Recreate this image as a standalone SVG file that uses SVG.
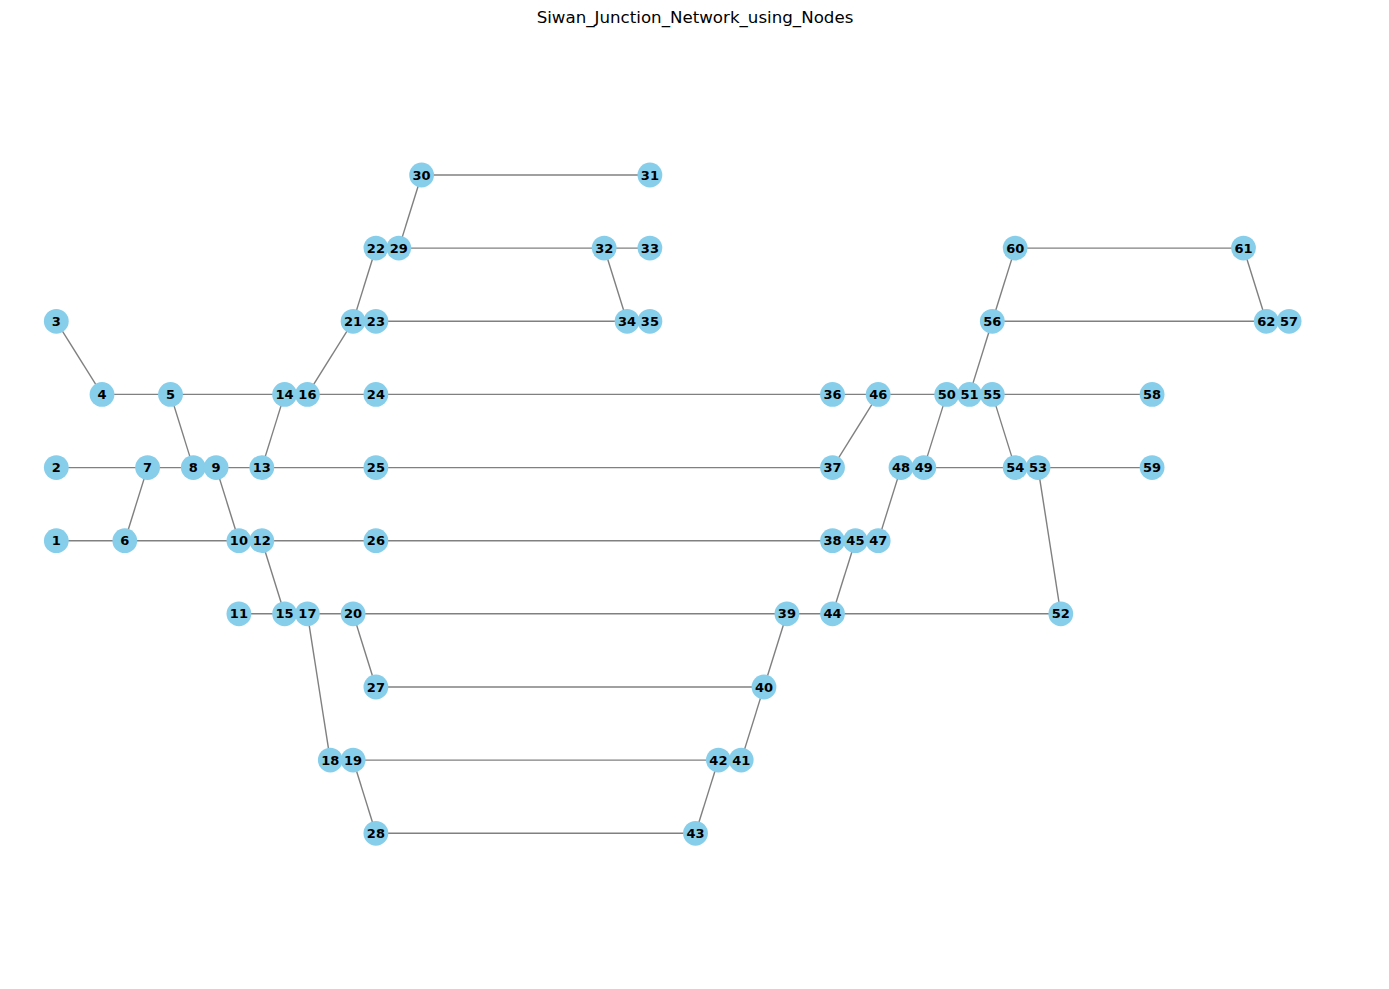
<svg xmlns="http://www.w3.org/2000/svg" width="1389" height="989" viewBox="0 0 1389 989">
<style>
.bg{fill:#ffffff}
.title{font-family:"DejaVu Sans",sans-serif;font-size:16.67px;fill:#000;text-anchor:middle}
#edges line{stroke:#808080;stroke-width:1.4}
.node circle{fill:#87CEEB}
.node text{font-family:"DejaVu Sans",sans-serif;font-size:13px;font-weight:bold;fill:#000;text-anchor:middle;dominant-baseline:central}
</style>
<rect class="bg" x="0" y="0" width="1389" height="989"/>
<text class="title" x="695" y="22.5">Siwan_Junction_Network_using_Nodes</text>
<g id="edges">
<line x1="421.6" y1="175" x2="649.9" y2="175"/>
<line x1="421.6" y1="175" x2="398.8" y2="248.1"/>
<line x1="398.8" y1="248.1" x2="604.2" y2="248.1"/>
<line x1="604.2" y1="248.1" x2="649.9" y2="248.1"/>
<line x1="604.2" y1="248.1" x2="627.1" y2="321.3"/>
<line x1="375.9" y1="248.1" x2="353.1" y2="321.3"/>
<line x1="353.1" y1="321.3" x2="307.4" y2="394.4"/>
<line x1="375.9" y1="321.3" x2="627.1" y2="321.3"/>
<line x1="56.3" y1="321.3" x2="102.0" y2="394.4"/>
<line x1="102.0" y1="394.4" x2="170.5" y2="394.4"/>
<line x1="170.5" y1="394.4" x2="284.6" y2="394.4"/>
<line x1="307.4" y1="394.4" x2="375.9" y2="394.4"/>
<line x1="375.9" y1="394.4" x2="832.5" y2="394.4"/>
<line x1="832.5" y1="394.4" x2="878.2" y2="394.4"/>
<line x1="878.2" y1="394.4" x2="946.7" y2="394.4"/>
<line x1="170.5" y1="394.4" x2="193.3" y2="467.6"/>
<line x1="284.6" y1="394.4" x2="261.8" y2="467.6"/>
<line x1="56.3" y1="467.6" x2="147.6" y2="467.6"/>
<line x1="147.6" y1="467.6" x2="193.3" y2="467.6"/>
<line x1="216.1" y1="467.6" x2="261.8" y2="467.6"/>
<line x1="261.8" y1="467.6" x2="375.9" y2="467.6"/>
<line x1="375.9" y1="467.6" x2="832.5" y2="467.6"/>
<line x1="147.6" y1="467.6" x2="124.8" y2="540.7"/>
<line x1="216.1" y1="467.6" x2="238.9" y2="540.7"/>
<line x1="56.3" y1="540.7" x2="124.8" y2="540.7"/>
<line x1="124.8" y1="540.7" x2="238.9" y2="540.7"/>
<line x1="261.8" y1="540.7" x2="375.9" y2="540.7"/>
<line x1="375.9" y1="540.7" x2="832.5" y2="540.7"/>
<line x1="261.8" y1="540.7" x2="284.6" y2="613.8"/>
<line x1="238.9" y1="613.8" x2="284.6" y2="613.8"/>
<line x1="307.4" y1="613.8" x2="353.1" y2="613.8"/>
<line x1="353.1" y1="613.8" x2="786.9" y2="613.8"/>
<line x1="786.9" y1="613.8" x2="832.5" y2="613.8"/>
<line x1="832.5" y1="613.8" x2="1060.8" y2="613.8"/>
<line x1="307.4" y1="613.8" x2="330.3" y2="760.1"/>
<line x1="353.1" y1="613.8" x2="375.9" y2="687.0"/>
<line x1="375.9" y1="687.0" x2="764.0" y2="687.0"/>
<line x1="786.9" y1="613.8" x2="764.0" y2="687.0"/>
<line x1="764.0" y1="687.0" x2="741.2" y2="760.1"/>
<line x1="353.1" y1="760.1" x2="718.4" y2="760.1"/>
<line x1="718.4" y1="760.1" x2="695.5" y2="833.3"/>
<line x1="353.1" y1="760.1" x2="375.9" y2="833.3"/>
<line x1="375.9" y1="833.3" x2="695.5" y2="833.3"/>
<line x1="878.2" y1="394.4" x2="832.5" y2="467.6"/>
<line x1="946.7" y1="394.4" x2="923.8" y2="467.6"/>
<line x1="923.8" y1="467.6" x2="1015.2" y2="467.6"/>
<line x1="992.3" y1="394.4" x2="1015.2" y2="467.6"/>
<line x1="992.3" y1="394.4" x2="1152.1" y2="394.4"/>
<line x1="1038.0" y1="467.6" x2="1152.1" y2="467.6"/>
<line x1="1038.0" y1="467.6" x2="1060.8" y2="613.8"/>
<line x1="901.0" y1="467.6" x2="878.2" y2="540.7"/>
<line x1="855.4" y1="540.7" x2="832.5" y2="613.8"/>
<line x1="969.5" y1="394.4" x2="992.3" y2="321.3"/>
<line x1="992.3" y1="321.3" x2="1015.2" y2="248.1"/>
<line x1="1015.2" y1="248.1" x2="1243.5" y2="248.1"/>
<line x1="1243.5" y1="248.1" x2="1266.3" y2="321.3"/>
<line x1="992.3" y1="321.3" x2="1266.3" y2="321.3"/>
</g>
<g id="nodes">
<g id="n1" class="node"><circle cx="56.3" cy="540.7" r="12.4"/><text x="56.3" y="540.7">1</text></g>
<g id="n2" class="node"><circle cx="56.3" cy="467.6" r="12.4"/><text x="56.3" y="467.6">2</text></g>
<g id="n3" class="node"><circle cx="56.3" cy="321.3" r="12.4"/><text x="56.3" y="321.3">3</text></g>
<g id="n4" class="node"><circle cx="102.0" cy="394.4" r="12.4"/><text x="102.0" y="394.4">4</text></g>
<g id="n5" class="node"><circle cx="170.5" cy="394.4" r="12.4"/><text x="170.5" y="394.4">5</text></g>
<g id="n6" class="node"><circle cx="124.8" cy="540.7" r="12.4"/><text x="124.8" y="540.7">6</text></g>
<g id="n7" class="node"><circle cx="147.6" cy="467.6" r="12.4"/><text x="147.6" y="467.6">7</text></g>
<g id="n8" class="node"><circle cx="193.3" cy="467.6" r="12.4"/><text x="193.3" y="467.6">8</text></g>
<g id="n9" class="node"><circle cx="216.1" cy="467.6" r="12.4"/><text x="216.1" y="467.6">9</text></g>
<g id="n10" class="node"><circle cx="238.9" cy="540.7" r="12.4"/><text x="238.9" y="540.7">10</text></g>
<g id="n11" class="node"><circle cx="238.9" cy="613.8" r="12.4"/><text x="238.9" y="613.8">11</text></g>
<g id="n12" class="node"><circle cx="261.8" cy="540.7" r="12.4"/><text x="261.8" y="540.7">12</text></g>
<g id="n13" class="node"><circle cx="261.8" cy="467.6" r="12.4"/><text x="261.8" y="467.6">13</text></g>
<g id="n14" class="node"><circle cx="284.6" cy="394.4" r="12.4"/><text x="284.6" y="394.4">14</text></g>
<g id="n15" class="node"><circle cx="284.6" cy="613.8" r="12.4"/><text x="284.6" y="613.8">15</text></g>
<g id="n16" class="node"><circle cx="307.4" cy="394.4" r="12.4"/><text x="307.4" y="394.4">16</text></g>
<g id="n17" class="node"><circle cx="307.4" cy="613.8" r="12.4"/><text x="307.4" y="613.8">17</text></g>
<g id="n18" class="node"><circle cx="330.3" cy="760.1" r="12.4"/><text x="330.3" y="760.1">18</text></g>
<g id="n19" class="node"><circle cx="353.1" cy="760.1" r="12.4"/><text x="353.1" y="760.1">19</text></g>
<g id="n20" class="node"><circle cx="353.1" cy="613.8" r="12.4"/><text x="353.1" y="613.8">20</text></g>
<g id="n21" class="node"><circle cx="353.1" cy="321.3" r="12.4"/><text x="353.1" y="321.3">21</text></g>
<g id="n22" class="node"><circle cx="375.9" cy="248.1" r="12.4"/><text x="375.9" y="248.1">22</text></g>
<g id="n23" class="node"><circle cx="375.9" cy="321.3" r="12.4"/><text x="375.9" y="321.3">23</text></g>
<g id="n24" class="node"><circle cx="375.9" cy="394.4" r="12.4"/><text x="375.9" y="394.4">24</text></g>
<g id="n25" class="node"><circle cx="375.9" cy="467.6" r="12.4"/><text x="375.9" y="467.6">25</text></g>
<g id="n26" class="node"><circle cx="375.9" cy="540.7" r="12.4"/><text x="375.9" y="540.7">26</text></g>
<g id="n27" class="node"><circle cx="375.9" cy="687.0" r="12.4"/><text x="375.9" y="687.0">27</text></g>
<g id="n28" class="node"><circle cx="375.9" cy="833.3" r="12.4"/><text x="375.9" y="833.3">28</text></g>
<g id="n29" class="node"><circle cx="398.8" cy="248.1" r="12.4"/><text x="398.8" y="248.1">29</text></g>
<g id="n30" class="node"><circle cx="421.6" cy="175" r="12.4"/><text x="421.6" y="175">30</text></g>
<g id="n31" class="node"><circle cx="649.9" cy="175" r="12.4"/><text x="649.9" y="175">31</text></g>
<g id="n32" class="node"><circle cx="604.2" cy="248.1" r="12.4"/><text x="604.2" y="248.1">32</text></g>
<g id="n33" class="node"><circle cx="649.9" cy="248.1" r="12.4"/><text x="649.9" y="248.1">33</text></g>
<g id="n34" class="node"><circle cx="627.1" cy="321.3" r="12.4"/><text x="627.1" y="321.3">34</text></g>
<g id="n35" class="node"><circle cx="649.9" cy="321.3" r="12.4"/><text x="649.9" y="321.3">35</text></g>
<g id="n36" class="node"><circle cx="832.5" cy="394.4" r="12.4"/><text x="832.5" y="394.4">36</text></g>
<g id="n37" class="node"><circle cx="832.5" cy="467.6" r="12.4"/><text x="832.5" y="467.6">37</text></g>
<g id="n38" class="node"><circle cx="832.5" cy="540.7" r="12.4"/><text x="832.5" y="540.7">38</text></g>
<g id="n39" class="node"><circle cx="786.9" cy="613.8" r="12.4"/><text x="786.9" y="613.8">39</text></g>
<g id="n40" class="node"><circle cx="764.0" cy="687.0" r="12.4"/><text x="764.0" y="687.0">40</text></g>
<g id="n41" class="node"><circle cx="741.2" cy="760.1" r="12.4"/><text x="741.2" y="760.1">41</text></g>
<g id="n42" class="node"><circle cx="718.4" cy="760.1" r="12.4"/><text x="718.4" y="760.1">42</text></g>
<g id="n43" class="node"><circle cx="695.5" cy="833.3" r="12.4"/><text x="695.5" y="833.3">43</text></g>
<g id="n44" class="node"><circle cx="832.5" cy="613.8" r="12.4"/><text x="832.5" y="613.8">44</text></g>
<g id="n45" class="node"><circle cx="855.4" cy="540.7" r="12.4"/><text x="855.4" y="540.7">45</text></g>
<g id="n46" class="node"><circle cx="878.2" cy="394.4" r="12.4"/><text x="878.2" y="394.4">46</text></g>
<g id="n47" class="node"><circle cx="878.2" cy="540.7" r="12.4"/><text x="878.2" y="540.7">47</text></g>
<g id="n48" class="node"><circle cx="901.0" cy="467.6" r="12.4"/><text x="901.0" y="467.6">48</text></g>
<g id="n49" class="node"><circle cx="923.8" cy="467.6" r="12.4"/><text x="923.8" y="467.6">49</text></g>
<g id="n50" class="node"><circle cx="946.7" cy="394.4" r="12.4"/><text x="946.7" y="394.4">50</text></g>
<g id="n51" class="node"><circle cx="969.5" cy="394.4" r="12.4"/><text x="969.5" y="394.4">51</text></g>
<g id="n52" class="node"><circle cx="1060.8" cy="613.8" r="12.4"/><text x="1060.8" y="613.8">52</text></g>
<g id="n53" class="node"><circle cx="1038.0" cy="467.6" r="12.4"/><text x="1038.0" y="467.6">53</text></g>
<g id="n54" class="node"><circle cx="1015.2" cy="467.6" r="12.4"/><text x="1015.2" y="467.6">54</text></g>
<g id="n55" class="node"><circle cx="992.3" cy="394.4" r="12.4"/><text x="992.3" y="394.4">55</text></g>
<g id="n56" class="node"><circle cx="992.3" cy="321.3" r="12.4"/><text x="992.3" y="321.3">56</text></g>
<g id="n57" class="node"><circle cx="1289.1" cy="321.3" r="12.4"/><text x="1289.1" y="321.3">57</text></g>
<g id="n58" class="node"><circle cx="1152.1" cy="394.4" r="12.4"/><text x="1152.1" y="394.4">58</text></g>
<g id="n59" class="node"><circle cx="1152.1" cy="467.6" r="12.4"/><text x="1152.1" y="467.6">59</text></g>
<g id="n60" class="node"><circle cx="1015.2" cy="248.1" r="12.4"/><text x="1015.2" y="248.1">60</text></g>
<g id="n61" class="node"><circle cx="1243.5" cy="248.1" r="12.4"/><text x="1243.5" y="248.1">61</text></g>
<g id="n62" class="node"><circle cx="1266.3" cy="321.3" r="12.4"/><text x="1266.3" y="321.3">62</text></g>
</g>
</svg>
